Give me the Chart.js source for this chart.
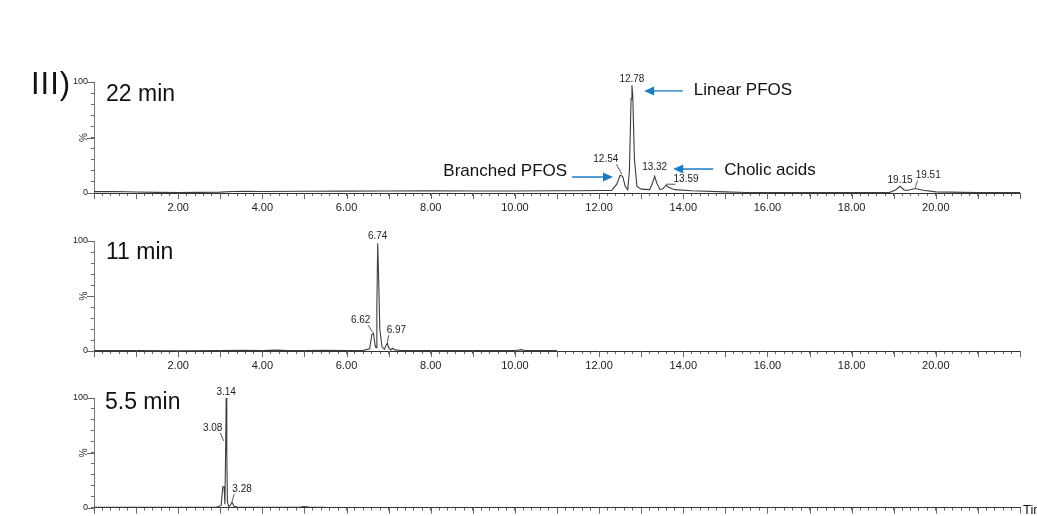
<!DOCTYPE html>
<html>
<head>
<meta charset="utf-8">
<script src="https://cdn.jsdelivr.net/npm/chart.js@4"></script>
<style>
body{margin:0;width:1037px;height:516px;overflow:hidden;background:#fff;position:relative;font-family:'Liberation Sans',Arial,sans-serif;}
canvas{position:absolute;left:0;}
.lbl{position:absolute;line-height:1;color:#111;white-space:nowrap;}
</style>
</head>
<body>
<canvas id="c22" width="1037" height="215" style="top:0px"></canvas>
<canvas id="c11" width="1037" height="160" style="top:215px"></canvas>
<canvas id="c55" width="1037" height="141" style="top:375px"></canvas>
<div class="lbl" style="left:31px;top:68px;font-size:31px;letter-spacing:1px">III)</div>
<div class="lbl" style="left:106px;top:82px;font-size:23px">22 min</div>
<div class="lbl" style="left:106px;top:240px;font-size:23px">11 min</div>
<div class="lbl" style="left:105px;top:390px;font-size:23px">5.5 min</div>
<div class="lbl" style="left:1023px;top:503px;font-size:13px">Time</div>
<script>
Chart.defaults.font.family = "'Liberation Sans', Arial, sans-serif";

// 22 min run (retention time, relative intensity %)
const t22 = [0, 0.5, 1.0, 1.5, 2.0, 2.5, 3.0, 3.3, 3.6, 4.0, 5.0, 6.0, 7.0, 8.0, 9.0, 10.0, 11.0, 11.5, 12.0, 12.3,
  12.42, 12.5, 12.56, 12.62, 12.68, 12.72, 12.76, 12.78, 12.8, 12.84, 12.9, 13.0, 13.2, 13.27, 13.32, 13.37, 13.45,
  13.52, 13.59, 13.66, 13.8, 14.2, 15.0, 15.5, 16.0, 17.0, 18.0, 18.9, 19.05, 19.15, 19.25, 19.35, 19.51, 19.7, 20.0, 21.0, 22.0];
const i22 = [1.2, 1.3, 0.9, 0.6, 0.5, 0.6, 0.8, 1.4, 1.5, 1.4, 1.6, 1.7, 1.8, 1.9, 1.8, 1.8, 2.0, 2.0, 2.2, 2.4,
  8, 16, 15, 6, 3, 20, 85, 97, 88, 30, 6, 3.5, 3, 9, 15, 9, 3,
  4, 7, 5, 3, 2, 1, 0.5, 0.3, 0.3, 0.3, 0.4, 3, 6, 2.5, 2.5, 4, 2.5, 1, 0.3, 0.3];
const peaks22 = [12.54, 12.78, 13.32, 13.59, 19.15, 19.51];

// 11 min run
const t11 = [0, 1, 2, 3, 3.5, 4, 4.3, 4.6, 5, 5.5, 6.0, 6.4, 6.55, 6.6, 6.64, 6.68, 6.7, 6.72, 6.74, 6.76, 6.79,
  6.84, 6.9, 6.95, 6.97, 7.0, 7.05, 7.1, 7.15, 7.3, 8, 9, 10, 10.15, 10.25, 11.0];
const i11 = [0.3, 0.3, 0.2, 0.3, 0.6, 0.5, 0.8, 0.4, 0.5, 0.6, 0.5, 0.6, 2, 15, 16, 5, 3, 40, 98, 70, 20,
  4, 1.5, 6, 7, 3, 1, 2.5, 1, 0.5, 0.4, 0.3, 0.3, 1.2, 0.3, 0.3];
const peaks11 = [6.62, 6.74, 6.97];

// 5.5 min run
const t55 = [0, 1, 2, 2.5, 2.9, 3.02, 3.06, 3.09, 3.11, 3.13, 3.14, 3.155, 3.17, 3.2, 3.24, 3.28, 3.32, 3.4, 3.6,
  4.0, 4.5, 4.9, 5.0, 5.1, 5.5];
const i55 = [0.2, 0.2, 0.2, 0.3, 0.3, 2, 19, 19, 3, 60, 100, 50, 5, 1, 2, 5, 1.5, 0.6, 0.3,
  0.2, 0.2, 0.4, 1, 0.4, 0.2];
const peaks55 = [3.08, 3.14, 3.28];

// axis
const xLabelled = [2, 4, 6, 8, 10, 12, 14, 16, 18, 20];
const yLabelled = [0, 100];

// label offsets (px) from each peak top, same order as peaks
const off22 = [[-16, -16], [0, -6], [0, -9], [20, -6], [0, -6], [13, -13]];
const off11 = [[-12, -13], [0, -7], [9, -13]];
const off55 = [[-11, -14], [0, -6], [10, -13]];

// arrow notes on the 22 min run: tip / tail in data units
const notes22 = [
  {text: 'Linear PFOS', tip: [13.07, 92], tail: [13.99, 92], side: 'right', dx: 11, dy: 4},
  {text: 'Branched PFOS', tip: [12.33, 14.4], tail: [11.36, 14.4], side: 'left', dx: -5, dy: -1},
  {text: 'Cholic acids', tip: [13.76, 21.6], tail: [14.71, 21.6], side: 'right', dx: 11, dy: 6}
];

const chromPlugin = {
  id: 'chrom',
  afterDraw(chart, args, opts) {
    const {ctx} = chart;
    const x = chart.scales.x, y = chart.scales.y;
    ctx.save();
    // longer ticks
    ctx.strokeStyle = '#666';
    ctx.lineWidth = 1;
    for (let v = 0; v <= 22; v++) {
      const px = Math.round(x.getPixelForValue(v)) + 0.5;
      ctx.beginPath(); ctx.moveTo(px, y.bottom); ctx.lineTo(px, y.bottom + 6); ctx.stroke();
    }
    for (const v of [0, 50, 100]) {
      const py = Math.round(y.getPixelForValue(v)) + 0.5;
      ctx.beginPath(); ctx.moveTo(x.left - 7, py); ctx.lineTo(x.left, py); ctx.stroke();
    }
    // peak labels
    ctx.font = '10px "Liberation Sans", Arial, sans-serif';
    ctx.fillStyle = '#222';
    ctx.textAlign = 'center';
    ctx.textBaseline = 'middle';
    opts.peaks.forEach((pt, k) => {
      let top = 0;
      opts.t.forEach((tt, j) => { if (Math.abs(tt - pt) <= 0.06) top = Math.max(top, opts.v[j]); });
      const px = x.getPixelForValue(pt), py = y.getPixelForValue(top);
      const [dx, dy] = opts.off[k];
      const lx = px + dx, ly = py + dy;
      const txt = pt.toFixed(2);
      ctx.fillText(txt, lx, ly);
      if (Math.abs(dx) > 3) {
        const w = ctx.measureText(txt).width;
        ctx.strokeStyle = '#555';
        ctx.beginPath();
        ctx.moveTo(px, py - 1);
        ctx.lineTo(dx < 0 ? lx + w / 2 - 2 : lx - w / 2 + 2, ly + 5);
        ctx.stroke();
      }
    });
    // arrows
    (opts.notes || []).forEach(n => {
      const x1 = x.getPixelForValue(n.tail[0]), x2 = x.getPixelForValue(n.tip[0]);
      const py = y.getPixelForValue(n.tip[1]);
      const dir = Math.sign(x2 - x1);
      ctx.strokeStyle = '#1f7ac3';
      ctx.fillStyle = '#1f7ac3';
      ctx.lineWidth = 1.3;
      ctx.beginPath(); ctx.moveTo(x1, py); ctx.lineTo(x2 - dir * 8, py); ctx.stroke();
      ctx.beginPath();
      ctx.moveTo(x2, py); ctx.lineTo(x2 - dir * 10, py - 4.5); ctx.lineTo(x2 - dir * 10, py + 4.5);
      ctx.closePath(); ctx.fill();
      ctx.font = '17px "Liberation Sans", Arial, sans-serif';
      ctx.fillStyle = '#111';
      ctx.textBaseline = 'alphabetic';
      ctx.textAlign = n.side === 'left' ? 'right' : 'left';
      ctx.fillText(n.text, x1 + n.dx, py + n.dy);
    });
    ctx.restore();
  }
};

function makeChart(id, t, v, peaks, off, notes, padTop, xHeight) {
  return new Chart(document.getElementById(id), {
    type: 'line',
    data: {
      datasets: [{
        data: t.map((tt, j) => ({x: tt, y: v[j]})),
        borderColor: '#3d3d3d',
        borderWidth: 1.1,
        pointRadius: 0,
        tension: 0
      }]
    },
    options: {
      responsive: false,
      animation: false,
      layout: {padding: {left: 66, right: 17, top: padTop, bottom: 0}},
      plugins: {
        legend: {display: false},
        tooltip: {enabled: false},
        chrom: {t: t, v: v, peaks: peaks, off: off, notes: notes}
      },
      scales: {
        x: {
          type: 'linear', min: 0, max: 22,
          afterFit: s => { s.height = xHeight; },
          border: {color: '#333', width: 1},
          grid: {drawOnChartArea: false, tickLength: 3, color: '#666'},
          ticks: {
            stepSize: 0.2, autoSkip: false, maxTicksLimit: 200, maxRotation: 0, padding: 5,
            color: '#222', font: {size: 11},
            callback: val => xLabelled.some(m => Math.abs(m - val) < 1e-6) ? val.toFixed(2) : ''
          }
        },
        y: {
          min: 0, max: 100,
          afterFit: s => { s.width = 28; },
          border: {color: '#777', width: 1},
          grid: {drawOnChartArea: false, tickLength: 3, color: '#666'},
          title: {display: true, text: '%', color: '#333', font: {size: 10}, padding: {top: 12, bottom: 0}},
          ticks: {
            stepSize: 10, autoSkip: false, padding: 3, color: '#222', font: {size: 9},
            callback: val => yLabelled.includes(val) ? String(val) : ''
          }
        }
      }
    },
    plugins: [chromPlugin]
  });
}

makeChart('c22', t22, i22, peaks22, off22, notes22, 82, 22);
makeChart('c11', t11, i11, peaks11, off11, [], 26, 24);
makeChart('c55', t55, i55, peaks55, off55, [], 23, 8);
</script>
</body>
</html>
